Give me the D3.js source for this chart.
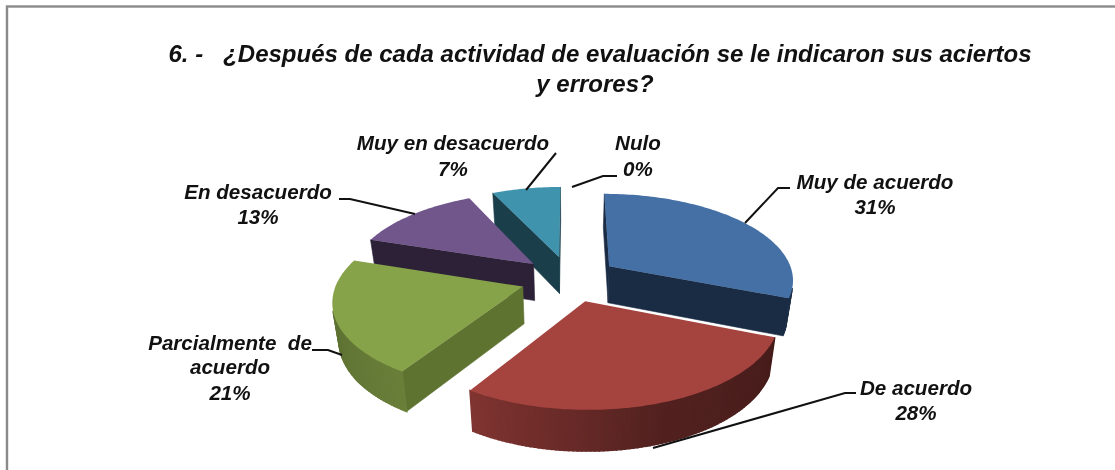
<!DOCTYPE html>
<html><head><meta charset="utf-8">
<script src="https://cdn.jsdelivr.net/npm/d3@7"></script>
<style>html,body{margin:0;padding:0;background:#fff;overflow:hidden}svg{display:block;filter:blur(.45px)}text{font-family:"Liberation Sans",Arial,sans-serif;font-weight:bold;font-style:italic;fill:#111}</style>
</head><body><svg id="c" width="1115" height="470"></svg>
<script>
const categories = ["Muy de acuerdo","De acuerdo","Parcialmente de acuerdo","En desacuerdo","Muy en desacuerdo","Nulo"];
const values = [31,28,21,13,7,0];
const percentLabels = ["31%","28%","21%","13%","7%","0%"];
const titleLines = ["6. -   ¿Después de cada actividad de evaluación se le indicaron sus aciertos","y errores?"];
const topColors = ["#4570a5","#a5433f","#87a34a","#71568c","#4093ad","#c77f35"];
const wallColors = ["#1a2c44","#4a1c1a","#5f7331","#2c2137","#1b3e4b","#6b4419"];

// layout of the labels and their leader lines
const labelLayout = [
 {lines:["Muy de acuerdo"],x:875,y:[189,214],leader:[[745,223],[778,188],[790,188]]},
 {lines:["De acuerdo"],x:916,y:[395,420],leader:[[653,448],[845,393],[856,393]]},
 {lines:["Parcialmente  de","acuerdo"],x:230,y:[350,374,400],leader:[[342,355],[328,350],[312,350]]},
 {lines:["En desacuerdo"],x:258,y:[199,224],leader:[[415,214],[350,199],[339,199]]},
 {lines:["Muy en desacuerdo"],x:453,y:[150,176],leader:[[526,190],[556,153]]},
 {lines:["Nulo"],x:638,y:[150,176],leader:[[572,187],[603,176],[617,176]]}
];

const svg = d3.select("#c");
svg.append("rect").attr("x",7).attr("y",6.5).attr("width",1130).attr("height",480)
   .attr("fill","#fff").attr("stroke","#8a8a8a").attr("stroke-width",2.4);

const title = svg.append("g").attr("text-anchor","middle").style("font-size","24px");
title.append("text").attr("x",600).attr("y",62).style("white-space","pre").text(titleLines[0]);
title.append("text").attr("x",595).attr("y",92).text(titleLines[1]);

// perspective projection of the pie plane
const cx=569.5, cy=278.8, R=185, explode=49, tilt=.465, persp=1300, depth=38, bottomShrink=.972;
function project(X,Y,lower){
  let s = 1/(1-Y/persp);
  if(lower) s*=bottomShrink;
  return [cx+X*s, cy+tilt*Y*s+(lower?depth*s:0)];
}
const arcs = d3.pie().sort(null).value(d=>d)(values).map((d,i)=>({...d,i}));
const line = d3.line();
const shade = d3.scaleLinear().domain([110,160,212,290].map(d=>d*Math.PI/180)).range([.42,.5,.78,.62]).clamp(true);

function sliceGeom(a){
  const mid=(a.startAngle+a.endAngle)/2;
  const ox=explode*Math.sin(mid), oy=-explode*Math.cos(mid);
  const pt=(ang,r)=>({X:ox+r*Math.sin(ang),Y:oy-r*Math.cos(ang),ang});
  const n=Math.max(2,Math.ceil((a.endAngle-a.startAngle)/0.02));
  const rim=d3.range(n+1).map(k=>pt(a.startAngle+(a.endAngle-a.startAngle)*k/n,R));
  return {apex:pt(mid,0),rim,oy};
}
function signedArea(p){return d3.sum(p,(q,i)=>{const r=p[(i+1)%p.length];return q[0]*r[1]-r[0]*q[1];});}

const pieG = svg.append("g");
arcs.filter(a=>a.value>0)
    .map(a=>({a,g:sliceGeom(a)}))
    .sort((u,v)=>u.g.oy-v.g.oy)
    .forEach(({a,g})=>{
  const grp=pieG.append("g");
  const outline=[g.apex,...g.rim];
  const base=d3.rgb(topColors[a.i]);
  outline.forEach((P,k)=>{
    const Q=outline[(k+1)%outline.length];
    const quad=[project(P.X,P.Y),project(Q.X,Q.Y),project(Q.X,Q.Y,true),project(P.X,P.Y,true)];
    if(signedArea(quad)>=0) return;
    const isRim = k>=1 && k<outline.length-1;
    const f=shade(P.ang);
    const col = isRim ? d3.rgb(base.r*f,base.g*f,base.b*f).formatHex() : wallColors[a.i];
    grp.append("path").attr("d",line(quad)+"Z").attr("fill",col).attr("stroke",col).attr("stroke-width",isRim?1.5:.6);
  });
  grp.append("path").attr("d",line(outline.map(p=>project(p.X,p.Y)))+"Z").attr("fill",topColors[a.i]);
});

const lab = svg.append("g");
labelLayout.forEach((l,i)=>{
  lab.append("path").attr("d",line(l.leader)).attr("fill","none").attr("stroke","#111").attr("stroke-width",2);
  [...l.lines,percentLabels[i]].forEach((t,j)=>{
    lab.append("text").attr("x",l.x).attr("y",l.y[j]).attr("text-anchor","middle")
       .style("font-size","20.6px").style("white-space","pre").text(t);
  });
});
</script></body></html>
